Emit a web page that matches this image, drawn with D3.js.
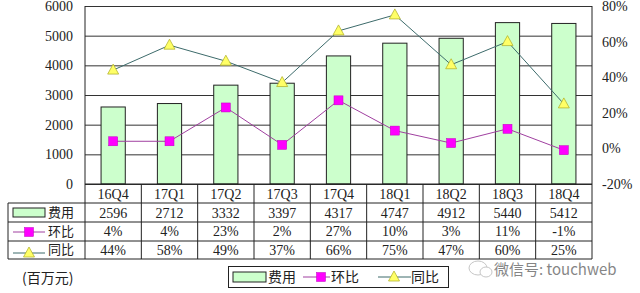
<!DOCTYPE html>
<html>
<head>
<meta charset="utf-8">
<script src="https://cdn.jsdelivr.net/npm/d3@7/dist/d3.min.js"></script>
<style>
  body { margin: 0; background: #fff; }
  text { font-family: "Liberation Serif", "Noto Sans CJK SC", serif; fill: #222; }
  .cjk { font-family: "Noto Sans CJK SC", sans-serif; }
</style>
</head>
<body>
<div id="chart"></div>
<script>
var categories = ['16Q4', '17Q1', '17Q2', '17Q3', '17Q4', '18Q1', '18Q2', '18Q3', '18Q4']
var feeValues = [2596, 2712, 3332, 3397, 4317, 4747, 4912, 5440, 5412]
var qoqValues = [4, 4, 23, 2, 27, 10, 3, 11, -1]
var yoyValues = [44, 58, 49, 37, 66, 75, 47, 60, 25]
var leftTicks = [0, 1000, 2000, 3000, 4000, 5000, 6000]
var rightTicks = [-20, 0, 20, 40, 60, 80]

var W = 640, H = 293
var plot = {left: 85, right: 592, top: 6, bottom: 184}
var tableLeft = 8
var rowLines = [203, 222, 241, 259]

var green = '#ccffcc', magenta = '#ff00ff', purpleLine = '#a040a0'
var yellow = '#ffff66', tealLine = '#3d6b6b'

var svg = d3.select('#chart').append('svg')
  .attr('width', W)
  .attr('height', H)

var x = d3.scaleBand().domain(categories).range([plot.left, plot.right]).padding(0)
var step = x.step()
var barW = step * 0.43
var yLeft = d3.scaleLinear().domain([0, 6000]).range([plot.bottom, plot.top])
var yRight = d3.scaleLinear().domain([-20, 80]).range([plot.bottom, plot.top])
var cx = d => x(d) + step / 2

// GRID + AXES
var leftAxis = d3.axisLeft(yLeft).tickValues(leftTicks).tickFormat(d3.format('d'))
  .tickSize(-(plot.right - plot.left)).tickPadding(12)
svg.append('g')
  .attr('transform', 'translate(' + plot.left + ',0)')
  .call(leftAxis)
  .call(g => {
    g.select('.domain').remove()
    g.selectAll('line').attr('stroke', '#333').attr('stroke-width', 1)
    g.selectAll('text').style('font-size', '14px').attr('fill', '#222')
  })

var rightAxis = d3.axisRight(yRight).tickValues(rightTicks).tickSize(0).tickPadding(10).tickFormat(d => d + '%')
svg.append('g')
  .attr('transform', 'translate(' + plot.right + ',0)')
  .call(rightAxis)
  .call(g => {
    g.select('.domain').remove()
    g.selectAll('text').style('font-size', '14px').attr('fill', '#222')
  })

// BARS
svg.append('g').selectAll('rect')
  .data(feeValues)
  .enter().append('rect')
    .attr('x', (d, i) => cx(categories[i]) - barW / 2)
    .attr('y', d => yLeft(d))
    .attr('width', barW)
    .attr('height', d => yLeft(0) - yLeft(d))
    .attr('fill', green)
    .attr('stroke', '#222')
    .attr('stroke-width', 1)

// plot frame
svg.append('line').attr('x1', plot.left).attr('x2', plot.left).attr('y1', plot.top).attr('y2', plot.bottom).attr('stroke', '#222')
svg.append('line').attr('x1', plot.right).attr('x2', plot.right).attr('y1', plot.top).attr('y2', rowLines[3]).attr('stroke', '#222')

// LINES
var pctLine = d3.line().x((d, i) => cx(categories[i])).y(d => yRight(d))
svg.append('path').datum(qoqValues)
  .attr('d', pctLine).attr('fill', 'none').attr('stroke', purpleLine).attr('stroke-width', 1)
svg.append('path').datum(yoyValues)
  .attr('d', pctLine).attr('fill', 'none').attr('stroke', tealLine).attr('stroke-width', 1)

function square(g, px, py) {
  g.append('rect').attr('x', px - 4.5).attr('y', py - 4.5).attr('width', 9).attr('height', 9)
    .attr('fill', magenta).attr('stroke', '#c000c0').attr('stroke-width', 0.5)
}
function triangle(g, px, py) {
  g.append('path').attr('d', 'M' + px + ',' + (py - 6) + 'L' + (px + 5.5) + ',' + (py + 4) + 'L' + (px - 5.5) + ',' + (py + 4) + 'Z')
    .attr('fill', yellow).attr('stroke', '#b5b530').attr('stroke-width', 0.8)
}

var markers = svg.append('g')
qoqValues.forEach((d, i) => square(markers, cx(categories[i]), yRight(d)))
yoyValues.forEach((d, i) => triangle(markers, cx(categories[i]), yRight(d)))

// TABLE
var table = svg.append('g')
table.append('line').attr('x1', plot.left).attr('x2', plot.right).attr('y1', plot.bottom).attr('y2', plot.bottom).attr('stroke', '#222')
rowLines.forEach(y => {
  table.append('line').attr('x1', tableLeft).attr('x2', plot.right).attr('y1', y).attr('y2', y).attr('stroke', '#222')
})
table.append('line').attr('x1', tableLeft).attr('x2', tableLeft).attr('y1', rowLines[0]).attr('y2', rowLines[3]).attr('stroke', '#222')
categories.forEach((c, i) => {
  if (i > 0) table.append('line').attr('x1', x(c)).attr('x2', x(c)).attr('y1', plot.bottom).attr('y2', rowLines[3]).attr('stroke', '#222')
})
table.append('line').attr('x1', plot.left).attr('x2', plot.left).attr('y1', plot.bottom).attr('y2', rowLines[3]).attr('stroke', '#222')

table.selectAll('.cat').data(categories).enter().append('text')
  .attr('x', d => cx(d)).attr('y', 199).attr('text-anchor', 'middle').style('font-size', '14px').text(d => d)

var rows = [
  {vals: feeValues.map(d => String(d)), y: 218},
  {vals: qoqValues.map(d => d + '%'), y: 236},
  {vals: yoyValues.map(d => d + '%'), y: 255}
]
rows.forEach(r => {
  r.vals.forEach((v, i) => {
    table.append('text').attr('x', cx(categories[i])).attr('y', r.y).attr('text-anchor', 'middle')
      .style('font-size', '14px').text(v)
  })
})

// left column icons
table.append('rect').attr('x', 13).attr('y', 208).attr('width', 32).attr('height', 9).attr('fill', green).attr('stroke', '#222')
table.append('line').attr('x1', 13).attr('x2', 45).attr('y1', 232).attr('y2', 232).attr('stroke', purpleLine)
square(table, 29, 232)
table.append('line').attr('x1', 13).attr('x2', 45).attr('y1', 253).attr('y2', 253).attr('stroke', tealLine)
triangle(table, 29, 253)
var rowNames = ['费用', '环比', '同比']
rowNames.forEach((n, i) => {
  table.append('text').attr('class', 'cjk').attr('x', 48).attr('y', [217, 236, 254][i]).style('font-size', '13px').text(n)
})

// unit
svg.append('text').attr('class', 'cjk').attr('x', 22).attr('y', 283).style('font-size', '14px').text('(百万元)')

// LEGEND
var legend = svg.append('g')
legend.append('rect').attr('x', 228.5).attr('y', 266.5).attr('width', 220).attr('height', 21).attr('fill', 'white').attr('stroke', '#222')
legend.append('rect').attr('x', 233).attr('y', 272).attr('width', 33).attr('height', 10).attr('fill', green).attr('stroke', '#222')
legend.append('text').attr('class', 'cjk').attr('x', 268).attr('y', 282).style('font-size', '14px').text('费用')
legend.append('line').attr('x1', 303).attr('x2', 330).attr('y1', 277).attr('y2', 277).attr('stroke', purpleLine)
square(legend, 321, 277)
legend.append('text').attr('class', 'cjk').attr('x', 331).attr('y', 282).style('font-size', '14px').text('环比')
legend.append('line').attr('x1', 378).attr('x2', 411).attr('y1', 277).attr('y2', 277).attr('stroke', tealLine)
triangle(legend, 394, 277)
legend.append('text').attr('class', 'cjk').attr('x', 411).attr('y', 282).style('font-size', '14px').text('同比')

// watermark
var wm = svg.append('g').attr('opacity', 0.55)
wm.append('ellipse').attr('cx', 478).attr('cy', 268).attr('rx', 9).attr('ry', 7).attr('fill', 'none').attr('stroke', '#999')
wm.append('ellipse').attr('cx', 486).attr('cy', 272).attr('rx', 6).attr('ry', 5).attr('fill', 'white').attr('stroke', '#999')
wm.append('text').attr('class', 'cjk').attr('x', 494).attr('y', 275).style('font-size', '15px').attr('fill', '#888').text('微信号: touchweb')
</script>
</body>
</html>
